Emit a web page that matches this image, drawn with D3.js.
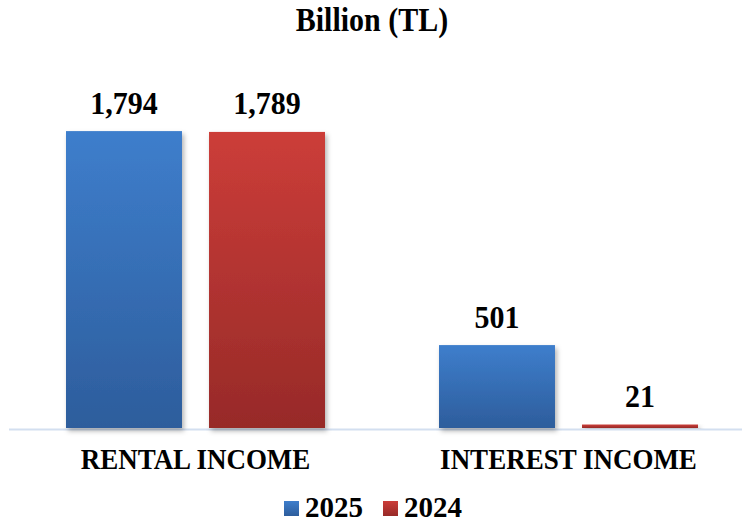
<!DOCTYPE html>
<html lang="en">
<head>
<meta charset="UTF-8" />
<title>Billion (TL)</title>
<script src="https://cdn.jsdelivr.net/npm/d3@7"></script>
<style>
  html, body { margin: 0; padding: 0; background: #fff; }
  svg { display: block; font-family: "Liberation Serif", "Times New Roman", serif; font-weight: bold; }
</style>
</head>
<body>
<div id="chart"></div>
<script>
// data
const categories = ['RENTAL INCOME', 'INTEREST INCOME'];
const seriesNames = ['2025', '2024'];
const values2025 = [1794, 501];
const values2024 = [1789, 21];

const width = 742, height = 525;
const svg = d3.select('#chart').append('svg')
  .attr('width', width).attr('height', height);

const defs = svg.append('defs');
const grads = [
  { id: 'g2025', top: '#3e7ecc', bottom: '#2d5d9c' },
  { id: 'g2024', top: '#cc3d39', bottom: '#972a28' }
];
grads.forEach(g => {
  const lg = defs.append('linearGradient').attr('id', g.id)
    .attr('x1', 0).attr('y1', 0).attr('x2', 0).attr('y2', 1);
  lg.append('stop').attr('offset', '0%').attr('stop-color', g.top);
  lg.append('stop').attr('offset', '100%').attr('stop-color', g.bottom);
});
defs.append('filter').attr('id', 'shadow')
  .attr('x', '-10%').attr('y', '-10%').attr('width', '130%').attr('height', '130%')
  .append('feDropShadow')
  .attr('dx', 2).attr('dy', 3).attr('stdDeviation', 2.5)
  .attr('flood-color', '#000').attr('flood-opacity', 0.3);

const x0 = d3.scaleBand().domain(categories).range([9, 755]);
const x1 = d3.scaleBand().domain(seriesNames).range([57, 316]).paddingInner(0.189);
const y = d3.scaleLinear().domain([0, 2000]).range([428, 97]);

// slightly taller text, like the original export
const tall = (sel, x, yy, k) => sel.attr('transform', `translate(${x},${yy}) scale(1,${k})`);

// title
svg.append('text')
  .call(tall, 372, 31, 1.15)
  .attr('text-anchor', 'middle')
  .style('font-size', '30px')
  .text('Billion (TL)');

// axis line
svg.append('line')
  .attr('x1', 9).attr('x2', width)
  .attr('y1', 429.5).attr('y2', 429.5)
  .attr('stroke', '#d3dff0').attr('stroke-width', 2);

const rows = categories.map((c, i) => ({
  cat: c,
  items: [
    { s: '2025', v: values2025[i] },
    { s: '2024', v: values2024[i] }
  ]
}));

const groups = svg.append('g').selectAll('g')
  .data(rows).join('g')
  .attr('transform', d => `translate(${x0(d.cat)},0)`);

groups.selectAll('rect')
  .data(d => d.items).join('rect')
  .attr('x', d => x1(d.s))
  .attr('width', x1.bandwidth())
  .attr('y', d => y(d.v))
  .attr('height', d => y(0) - y(d.v))
  .attr('fill', d => `url(#g${d.s})`)
  .attr('filter', 'url(#shadow)');

groups.selectAll('text.val')
  .data(d => d.items).join('text')
  .attr('class', 'val')
  .each(function(d) {
    d3.select(this).call(tall, x1(d.s) + x1.bandwidth() / 2, y(d.v) - 17.5, 1.07);
  })
  .attr('text-anchor', 'middle')
  .style('font-size', '30px')
  .text(d => d3.format(',')(d.v));

// category labels
svg.append('g').selectAll('text')
  .data(categories).join('text')
  .each(function(d) {
    d3.select(this).call(tall, x0(d) + 186.5, 469, 1.08);
  })
  .attr('text-anchor', 'middle')
  .style('font-size', '27px')
  .text(d => d);

// legend
const legend = svg.append('g');
const legendX = [284, 383];
seriesNames.forEach((s, i) => {
  legend.append('rect')
    .attr('x', legendX[i]).attr('y', 501)
    .attr('width', 15).attr('height', 15)
    .attr('fill', `url(#g${s})`);
  legend.append('text')
    .attr('x', legendX[i] + 21).attr('y', 517)
    .style('font-size', '29px')
    .text(s);
});
</script>
</body>
</html>
